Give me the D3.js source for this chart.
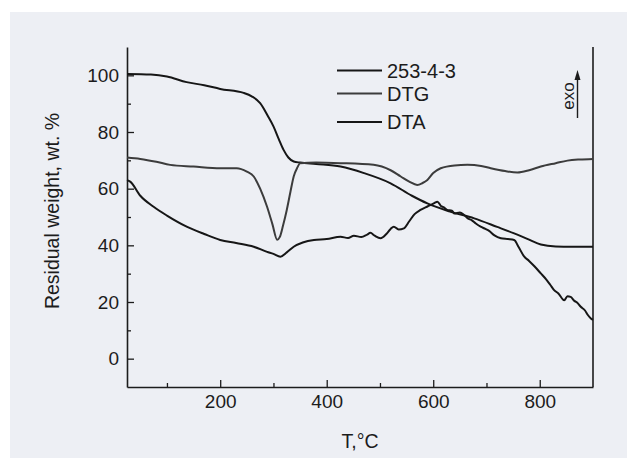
<!DOCTYPE html>
<html><head><meta charset="utf-8">
<script src="https://cdn.jsdelivr.net/npm/d3@7"></script>
<style>html,body{margin:0;padding:0;background:#fff;}svg{display:block;}</style>
</head><body>
<script>
// ---- data ----
const tgT   = [25,70,100,137,170,200,244,260,275,290,300,310,319,328,338,350,380,426,470,520,560,589,630,677,720,752,780,802,830,860,900];
const tgV   = [100.5,100.3,99.6,97.6,96.5,95.2,93.8,92.5,90.2,85.5,82,77.5,73.7,71,69.6,69.2,68.7,67.8,65.5,61.9,57.5,54.8,52,49.5,46.5,44.2,42,40.3,39.6,39.5,39.5];

const dtgT  = [25,50,80,106,150,200,231,250,263,275,288,298,307,312,318,325,332,338,345,350,380,426,488,520,539,555,570,580,589,600,614,640,664,690,708,735,758,780,802,830,852,875,900];
const dtgV  = [71,70.5,69.5,68.4,67.8,67.2,67.2,66,64.3,60,53.6,47.5,42,43,47,52.5,59,64.3,67.5,69,69.2,69,68.4,66.5,64.3,62.5,61.3,62,63.1,65.5,67.2,68.2,68.4,68,67.2,66.2,65.7,66.5,67.8,69,69.9,70.3,70.5];

const dtaT  = [25,31,50,75,100,137,170,200,230,263,288,300,313,325,338,355,376,400,426,440,451,465,476,482,490,501,512,520,526,535,545,555,565,576,590,601,608,614,620,626,635,640,650,658,665,672,680,689,698,705,715,727,740,752,760,771,780,790,802,812,820,827,835,846,852,858,865,870,877,885,890,896,900];
const dtaV  = [63,62.5,57.5,53.6,50.5,46.6,44,41.9,40.8,39.5,37.7,37,36,37.5,39.5,41,41.9,42.2,43,42.6,43.4,42.9,43.8,44.4,43.4,42.5,44,45.8,46.6,45.6,46,48.5,51,52.5,53.8,54.8,55.4,54,53.4,52.5,52.2,51.2,51.6,50.7,49.5,48.9,47.7,46.6,45.8,45.1,43.5,42.5,42.2,41.9,39.5,36,34.5,32.6,30.1,28,26,24.2,23,20.6,22,21.8,20.4,19.8,18.3,17,15.5,14.2,13.7];

const seriesNames = ["253-4-3","DTG","DTA"];
const xMajor = [200,400,600,800];
const xMinor = [100,300,500,700];
const yMajor = [0,20,40,60,80,100];
const yMinor = [10,30,50,70,90];

// ---- layout ----
const W = 627, H = 458;
const L = 127, R = 593, T = 47, B = 387;
const ink = "#1c1c1c";
const font = "'Liberation Sans', Arial, sans-serif";

const svg = d3.select("body").append("svg").attr("width", W).attr("height", H);
svg.append("rect").attr("width", W).attr("height", H).attr("fill", "#ffffff");
svg.append("rect").attr("x", 10).attr("y", 12).attr("width", W - 10).attr("height", H - 12).attr("fill", "#edeff4");

const x = d3.scaleLinear().domain([25, 900]).range([L, R]);
const y = d3.scaleLinear().domain([-10, 110]).range([B, T]);

function styleAxis(g) {
  g.selectAll("path").attr("stroke", ink).attr("stroke-width", 1.6);
  g.selectAll("line").attr("stroke", ink).attr("stroke-width", 1.3);
  g.selectAll("text").attr("fill", ink).attr("font-family", font).attr("font-size", 19);
}

// y axis
svg.append("g").attr("transform", `translate(${L},0)`)
  .call(d3.axisLeft(y).tickValues(yMajor).tickSizeInner(-7).tickSizeOuter(0).tickPadding(8))
  .call(styleAxis);
svg.append("g").attr("transform", `translate(${L},0)`)
  .call(d3.axisLeft(y).tickValues(yMinor).tickSizeInner(-4).tickSizeOuter(0).tickFormat(""))
  .call(g => g.select("path").remove()).call(styleAxis);

// x axis
svg.append("g").attr("transform", `translate(0,${B})`)
  .call(d3.axisBottom(x).tickValues(xMajor).tickSizeInner(-7).tickSizeOuter(0).tickPadding(8))
  .call(styleAxis);
svg.append("g").attr("transform", `translate(0,${B})`)
  .call(d3.axisBottom(x).tickValues(xMinor).tickSizeInner(-4).tickSizeOuter(0).tickFormat(""))
  .call(g => g.select("path").remove()).call(styleAxis);

// right frame line
svg.append("line").attr("x1", R).attr("x2", R).attr("y1", T).attr("y2", B)
  .attr("stroke", ink).attr("stroke-width", 1.6);

// axis titles
svg.append("text").attr("transform", `translate(59,211) rotate(-90)`)
  .attr("text-anchor", "middle").attr("font-family", font).attr("font-size", 19.5).attr("fill", ink)
  .text("Residual weight, wt. %");
svg.append("text").attr("x", 360).attr("y", 448)
  .attr("text-anchor", "middle").attr("font-family", font).attr("font-size", 19.5).attr("fill", ink)
  .text("T,°C");

// curves
const line = d3.line().x(d => x(d[0])).y(d => y(d[1])).curve(d3.curveMonotoneX);
const plot = svg.append("g");
const colors = ["#161616", "#3c3c3c", "#161616"];
const sets = [[tgT, tgV], [dtgT, dtgV], [dtaT, dtaV]];
sets.forEach((s, i) => {
  const pts = s[0].map((t, k) => [t, s[1][k]]);
  plot.append("path").attr("d", line(pts)).attr("fill", "none")
    .attr("stroke", colors[i]).attr("stroke-width", 2).attr("stroke-linejoin", "round");
});

// legend
const legY = [70.5, 93.5, 122];
seriesNames.forEach((n, i) => {
  svg.append("line").attr("x1", 337).attr("x2", 382).attr("y1", legY[i]).attr("y2", legY[i])
    .attr("stroke", colors[i]).attr("stroke-width", 2);
  svg.append("text").attr("x", 387).attr("y", legY[i]).attr("dy", "0.35em")
    .attr("font-family", font).attr("font-size", 20).attr("fill", ink).text(n);
});

// exo marker
svg.append("text").attr("transform", "translate(574,96) rotate(-90)")
  .attr("text-anchor", "middle").attr("font-family", font).attr("font-size", 17).attr("fill", ink)
  .text("exo");
svg.append("line").attr("x1", 577.5).attr("x2", 577.5).attr("y1", 118).attr("y2", 78)
  .attr("stroke", ink).attr("stroke-width", 1.4);
svg.append("path").attr("d", "M577.5,70 L574.5,80 L580.5,80 Z").attr("fill", ink);
</script>
</body></html>
